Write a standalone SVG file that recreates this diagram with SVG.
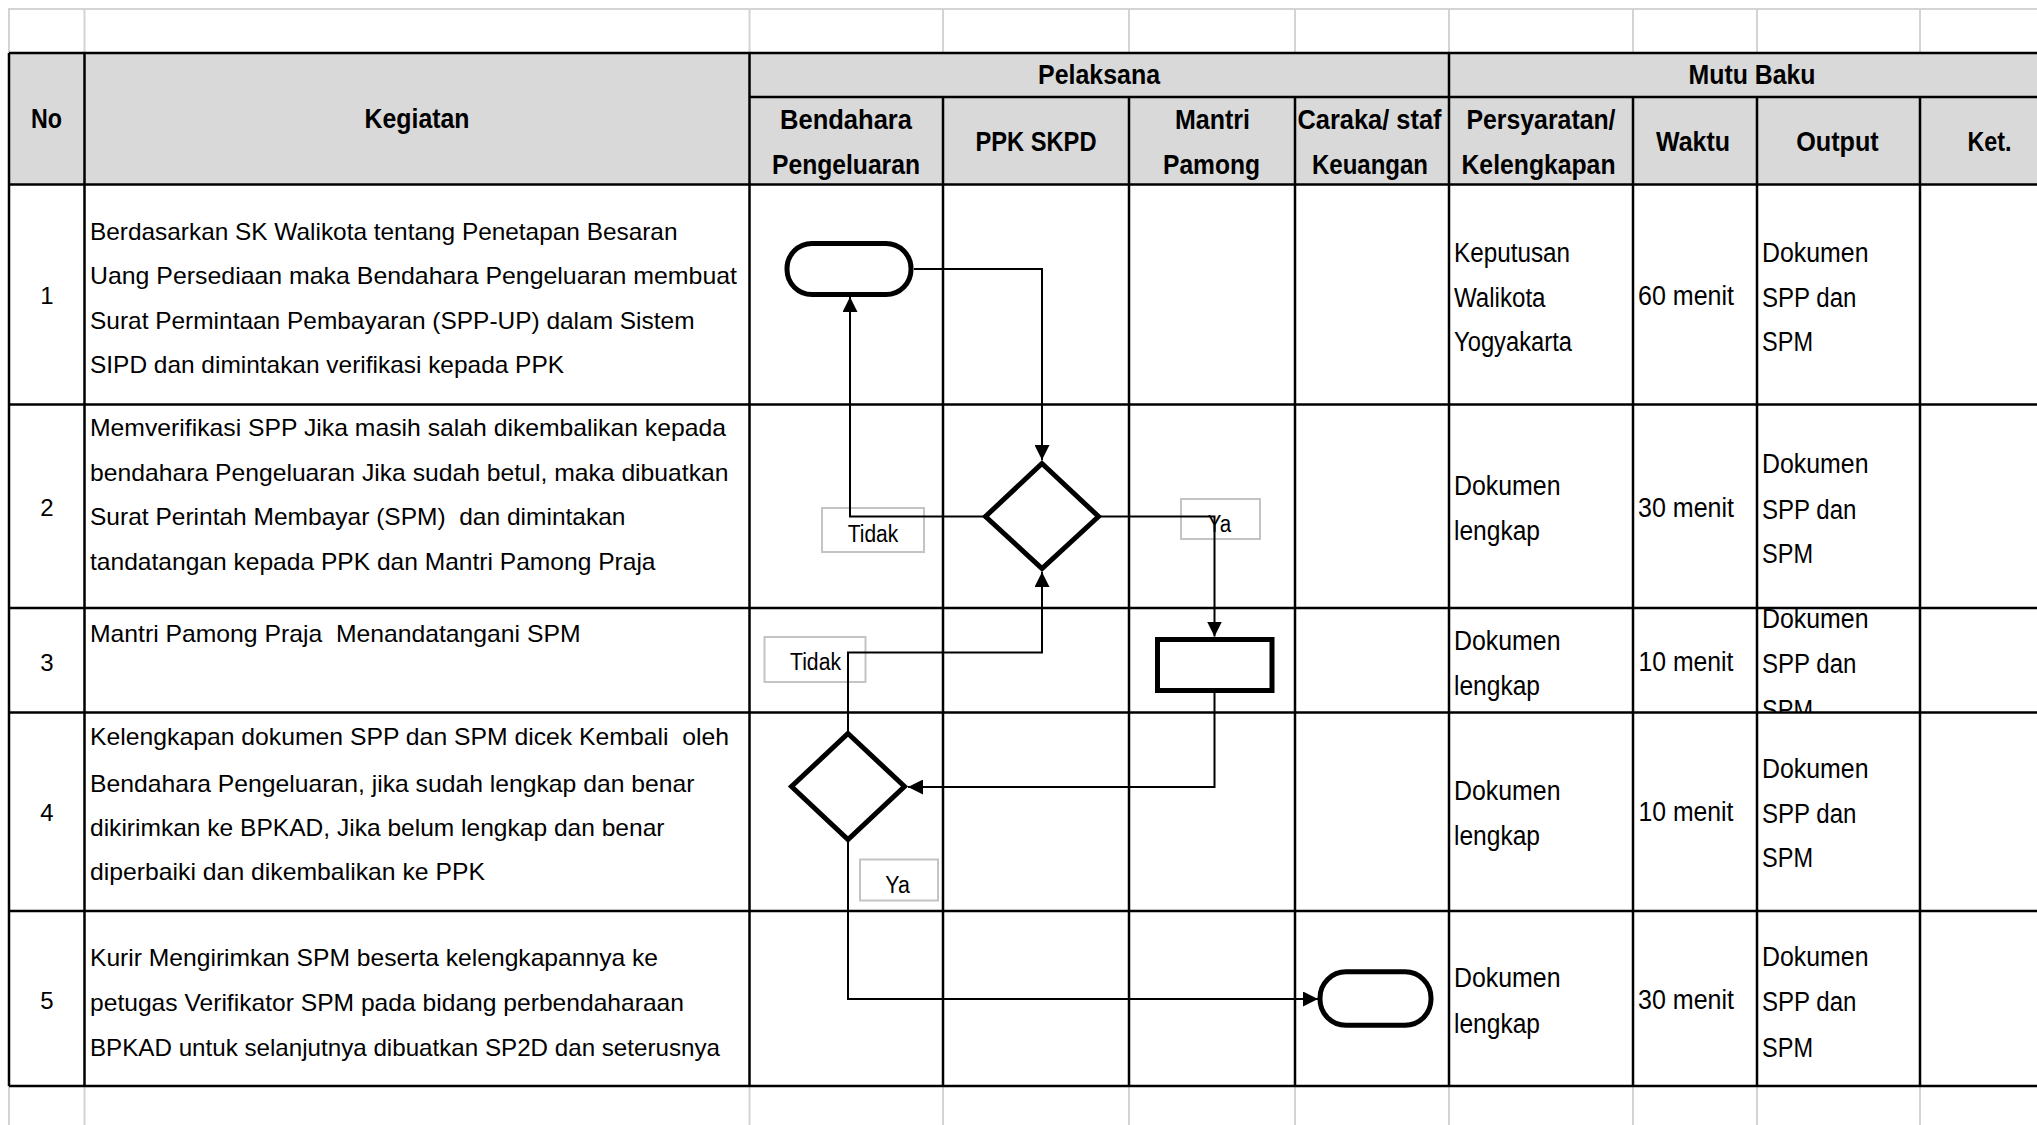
<svg xmlns="http://www.w3.org/2000/svg" width="2037" height="1125" viewBox="0 0 2037 1125">
  <style>
    .grid { stroke: #d4d4d4; stroke-width: 2; fill: none; }
    .tbl { stroke: #000; stroke-width: 2.5; fill: none; }
    .hd { font-family: "Liberation Sans", Arial, sans-serif; font-weight: bold; font-size: 28px; text-anchor: middle; fill: #000; }
    .tx { font-family: "Liberation Sans", Arial, sans-serif; font-size: 24px; fill: #000; }
    .tr { font-family: "Liberation Sans", Arial, sans-serif; font-size: 27px; fill: #000; }
    .num { font-family: "Liberation Sans", Arial, sans-serif; font-size: 24px; text-anchor: middle; fill: #000; }
    .lbl { font-family: "Liberation Sans", Arial, sans-serif; font-size: 23px; text-anchor: middle; fill: #000; }
    .shape { fill: #fff; stroke: #000; stroke-width: 5; stroke-linejoin: miter; }
    .conn { fill: none; stroke: #000; stroke-width: 2; }
    .tag { fill: none; stroke: #c4c4c4; stroke-width: 2; }
  </style>
  <defs>
    <marker id="arrow" markerUnits="userSpaceOnUse" markerWidth="15" markerHeight="15" refX="15" refY="7.5" orient="auto">
      <path d="M0,0 L15,7.5 L0,15 Z" fill="#000"/>
    </marker>
    <clipPath id="clip-out3">
      <rect x="1757" y="609" width="163" height="103"/>
    </clipPath>
  </defs>

  <rect width="2037" height="1125" fill="#fff"/>

  <!-- spreadsheet gridlines outside the table -->
  <g id="sheet-grid" class="grid">
    <line x1="8" y1="9" x2="2037" y2="9"/>
    <path d="M9,9 V53 M84.5,9 V53 M749.5,9 V53 M943,9 V53 M1129,9 V53 M1295,9 V53 M1449,9 V53 M1633,9 V53 M1757,9 V53 M1920,9 V53"/>
    <path d="M9,1086 V1125 M84.5,1086 V1125 M749.5,1086 V1125 M943,1086 V1125 M1129,1086 V1125 M1295,1086 V1125 M1449,1086 V1125 M1633,1086 V1125 M1757,1086 V1125 M1920,1086 V1125"/>
  </g>

  <!-- header band -->
  <rect x="9" y="53" width="2028" height="131.5" fill="#d9d9d9"/>

  <!-- table rules -->
  <g id="table" class="tbl">
    <path d="M9,53 H2037 M749.5,97 H2037 M9,184.5 H2037 M9,404.5 H2037 M9,608 H2037 M9,712.5 H2037 M9,911 H2037 M9,1086 H2037"/>
    <path d="M9,53 V1086 M84.5,53 V1086 M749.5,53 V1086 M1449,53 V1086"/>
    <path d="M943,97 V1086 M1129,97 V1086 M1295,97 V1086 M1633,97 V1086 M1757,97 V1086 M1920,97 V1086"/>
  </g>

  <!-- column headings -->
  <g id="headings">
    <text class="hd" x="46.5" y="128" textLength="31" lengthAdjust="spacingAndGlyphs">No</text>
    <text class="hd" x="417" y="128" textLength="105" lengthAdjust="spacingAndGlyphs">Kegiatan</text>
    <text class="hd" x="1099" y="83.5" textLength="122" lengthAdjust="spacingAndGlyphs">Pelaksana</text>
    <text class="hd" x="1752" y="83.5" textLength="127" lengthAdjust="spacingAndGlyphs">Mutu Baku</text>
    <text class="hd" x="846" y="128.5" textLength="132" lengthAdjust="spacingAndGlyphs">Bendahara</text>
    <text class="hd" x="846" y="173.5" textLength="148" lengthAdjust="spacingAndGlyphs">Pengeluaran</text>
    <text class="hd" x="1036" y="151" textLength="121" lengthAdjust="spacingAndGlyphs">PPK SKPD</text>
    <text class="hd" x="1212.5" y="128.5" textLength="75" lengthAdjust="spacingAndGlyphs">Mantri</text>
    <text class="hd" x="1211.5" y="173.5" textLength="97" lengthAdjust="spacingAndGlyphs">Pamong</text>
    <text class="hd" x="1369.5" y="128.5" textLength="144" lengthAdjust="spacingAndGlyphs">Caraka/ staf</text>
    <text class="hd" x="1370" y="173.5" textLength="116" lengthAdjust="spacingAndGlyphs">Keuangan</text>
    <text class="hd" x="1541" y="128.5" textLength="149" lengthAdjust="spacingAndGlyphs">Persyaratan/</text>
    <text class="hd" x="1538.5" y="173.5" textLength="154" lengthAdjust="spacingAndGlyphs">Kelengkapan</text>
    <text class="hd" x="1693" y="151" textLength="74" lengthAdjust="spacingAndGlyphs">Waktu</text>
    <text class="hd" x="1837.5" y="151" textLength="82.5" lengthAdjust="spacingAndGlyphs">Output</text>
    <text class="hd" x="1989.5" y="151" textLength="44" lengthAdjust="spacingAndGlyphs">Ket.</text>
  </g>

  <!-- step numbers -->
  <g id="numbers">
    <text class="num" x="47" y="304">1</text>
    <text class="num" x="47" y="516">2</text>
    <text class="num" x="47" y="670.5">3</text>
    <text class="num" x="47" y="821">4</text>
    <text class="num" x="47" y="1009">5</text>
  </g>

  <!-- activity descriptions -->
  <g id="activities">
    <text class="tx" x="90" y="239.5" textLength="587.5" lengthAdjust="spacingAndGlyphs">Berdasarkan SK Walikota tentang Penetapan Besaran</text>
    <text class="tx" x="90" y="284" textLength="647" lengthAdjust="spacingAndGlyphs">Uang Persediaan maka Bendahara Pengeluaran membuat</text>
    <text class="tx" x="90" y="328.5" textLength="604.5" lengthAdjust="spacingAndGlyphs">Surat Permintaan Pembayaran (SPP-UP) dalam Sistem</text>
    <text class="tx" x="90" y="373" textLength="474" lengthAdjust="spacingAndGlyphs">SIPD dan dimintakan verifikasi kepada PPK</text>

    <text class="tx" x="90" y="436" textLength="636" lengthAdjust="spacingAndGlyphs">Memverifikasi SPP Jika masih salah dikembalikan kepada</text>
    <text class="tx" x="90" y="481" textLength="638.5" lengthAdjust="spacingAndGlyphs">bendahara Pengeluaran Jika sudah betul, maka dibuatkan</text>
    <text class="tx" x="90" y="525" textLength="535.5" lengthAdjust="spacingAndGlyphs" xml:space="preserve">Surat Perintah Membayar (SPM)  dan dimintakan</text>
    <text class="tx" x="90" y="570" textLength="565.5" lengthAdjust="spacingAndGlyphs">tandatangan kepada PPK dan Mantri Pamong Praja</text>

    <text class="tx" x="90" y="642" textLength="490.5" lengthAdjust="spacingAndGlyphs" xml:space="preserve">Mantri Pamong Praja  Menandatangani SPM</text>

    <text class="tx" x="90" y="745" textLength="639" lengthAdjust="spacingAndGlyphs" xml:space="preserve">Kelengkapan dokumen SPP dan SPM dicek Kembali  oleh</text>
    <text class="tx" x="90" y="791.5" textLength="604.5" lengthAdjust="spacingAndGlyphs">Bendahara Pengeluaran, jika sudah lengkap dan benar</text>
    <text class="tx" x="90" y="835.5" textLength="574.5" lengthAdjust="spacingAndGlyphs">dikirimkan ke BPKAD, Jika belum lengkap dan benar</text>
    <text class="tx" x="90" y="879.5" textLength="395" lengthAdjust="spacingAndGlyphs">diperbaiki dan dikembalikan ke PPK</text>

    <text class="tx" x="90" y="965.5" textLength="568" lengthAdjust="spacingAndGlyphs">Kurir Mengirimkan SPM beserta kelengkapannya ke</text>
    <text class="tx" x="90" y="1011" textLength="594" lengthAdjust="spacingAndGlyphs">petugas Verifikator SPM pada bidang perbendaharaan</text>
    <text class="tx" x="90" y="1056" textLength="630" lengthAdjust="spacingAndGlyphs">BPKAD untuk selanjutnya dibuatkan SP2D dan seterusnya</text>
  </g>

  <!-- quality standard columns -->
  <g id="requirements">
    <text class="tr" x="1454" y="262" textLength="116" lengthAdjust="spacingAndGlyphs">Keputusan</text>
    <text class="tr" x="1454" y="307" textLength="91.5" lengthAdjust="spacingAndGlyphs">Walikota</text>
    <text class="tr" x="1454" y="351" textLength="118" lengthAdjust="spacingAndGlyphs">Yogyakarta</text>
    <text class="tr" x="1454" y="494.5" textLength="106.5" lengthAdjust="spacingAndGlyphs">Dokumen</text>
    <text class="tr" x="1454" y="540" textLength="86" lengthAdjust="spacingAndGlyphs">lengkap</text>
    <text class="tr" x="1454" y="650" textLength="106.5" lengthAdjust="spacingAndGlyphs">Dokumen</text>
    <text class="tr" x="1454" y="695" textLength="86" lengthAdjust="spacingAndGlyphs">lengkap</text>
    <text class="tr" x="1454" y="799.5" textLength="106.5" lengthAdjust="spacingAndGlyphs">Dokumen</text>
    <text class="tr" x="1454" y="845" textLength="86" lengthAdjust="spacingAndGlyphs">lengkap</text>
    <text class="tr" x="1454" y="987" textLength="106.5" lengthAdjust="spacingAndGlyphs">Dokumen</text>
    <text class="tr" x="1454" y="1032.5" textLength="86" lengthAdjust="spacingAndGlyphs">lengkap</text>
  </g>
  <g id="durations">
    <text class="tr" x="1638" y="305" textLength="96" lengthAdjust="spacingAndGlyphs">60 menit</text>
    <text class="tr" x="1638" y="517" textLength="96" lengthAdjust="spacingAndGlyphs">30 menit</text>
    <text class="tr" x="1638.5" y="671" textLength="95" lengthAdjust="spacingAndGlyphs">10 menit</text>
    <text class="tr" x="1638.5" y="821" textLength="95" lengthAdjust="spacingAndGlyphs">10 menit</text>
    <text class="tr" x="1638" y="1009" textLength="96" lengthAdjust="spacingAndGlyphs">30 menit</text>
  </g>
  <g id="outputs">
    <text class="tr" x="1762" y="262" textLength="106.5" lengthAdjust="spacingAndGlyphs">Dokumen</text>
    <text class="tr" x="1762" y="307" textLength="94.5" lengthAdjust="spacingAndGlyphs">SPP dan</text>
    <text class="tr" x="1762" y="351" textLength="51" lengthAdjust="spacingAndGlyphs">SPM</text>
    <text class="tr" x="1762" y="473" textLength="106.5" lengthAdjust="spacingAndGlyphs">Dokumen</text>
    <text class="tr" x="1762" y="518.5" textLength="94.5" lengthAdjust="spacingAndGlyphs">SPP dan</text>
    <text class="tr" x="1762" y="563" textLength="51" lengthAdjust="spacingAndGlyphs">SPM</text>
    <g clip-path="url(#clip-out3)">
      <text class="tr" x="1762" y="627.5" textLength="106.5" lengthAdjust="spacingAndGlyphs">Dokumen</text>
      <text class="tr" x="1762" y="673" textLength="94.5" lengthAdjust="spacingAndGlyphs">SPP dan</text>
      <text class="tr" x="1762" y="718.5" textLength="51" lengthAdjust="spacingAndGlyphs">SPM</text>
    </g>
    <text class="tr" x="1762" y="777.5" textLength="106.5" lengthAdjust="spacingAndGlyphs">Dokumen</text>
    <text class="tr" x="1762" y="823" textLength="94.5" lengthAdjust="spacingAndGlyphs">SPP dan</text>
    <text class="tr" x="1762" y="867" textLength="51" lengthAdjust="spacingAndGlyphs">SPM</text>
    <text class="tr" x="1762" y="965.5" textLength="106.5" lengthAdjust="spacingAndGlyphs">Dokumen</text>
    <text class="tr" x="1762" y="1011" textLength="94.5" lengthAdjust="spacingAndGlyphs">SPP dan</text>
    <text class="tr" x="1762" y="1056.5" textLength="51" lengthAdjust="spacingAndGlyphs">SPM</text>
  </g>

  <!-- decision labels -->
  <g id="labels">
    <rect class="tag" x="822" y="508" width="102" height="44"/>
    <text class="lbl" x="873" y="541.5" textLength="50.5" lengthAdjust="spacingAndGlyphs">Tidak</text>
    <rect class="tag" x="1181" y="499" width="79" height="40"/>
    <text class="lbl" x="1219.5" y="532" textLength="23.5" lengthAdjust="spacingAndGlyphs">Ya</text>
    <rect class="tag" x="764.5" y="637" width="101" height="45"/>
    <text class="lbl" x="815.5" y="670" textLength="51" lengthAdjust="spacingAndGlyphs">Tidak</text>
    <rect class="tag" x="860" y="859.5" width="78" height="41"/>
    <text class="lbl" x="897.5" y="893" textLength="24.5" lengthAdjust="spacingAndGlyphs">Ya</text>
  </g>

  <!-- flow connectors -->
  <g id="connectors" class="conn">
    <path d="M914,269 H1042 V460" marker-end="url(#arrow)"/>
    <path d="M985,516.5 H850 V297" marker-end="url(#arrow)"/>
    <path d="M1099,516.5 H1214.5 V636.5" marker-end="url(#arrow)"/>
    <path d="M1214.5,693 V787 H908" marker-end="url(#arrow)"/>
    <path d="M848,733 V652.5 H1042 V572" marker-end="url(#arrow)"/>
    <path d="M848,840 V999 H1318" marker-end="url(#arrow)"/>
  </g>

  <!-- flow nodes -->
  <g id="node-start">
    <rect class="shape" x="787" y="243.5" width="124" height="51" rx="25" ry="25"/>
  </g>
  <g id="node-verify">
    <polygon class="shape" points="1042,463.5 1098.5,516.5 1042,568.5 985.5,516.5"/>
  </g>
  <g id="node-sign">
    <rect class="shape" x="1157.5" y="639.5" width="114.5" height="51"/>
  </g>
  <g id="node-check">
    <polygon class="shape" points="848,733.5 904.5,786.5 848,839.5 791.5,786.5"/>
  </g>
  <g id="node-end">
    <rect class="shape" x="1320" y="971.8" width="111" height="53.5" rx="26" ry="26"/>
  </g>
</svg>
